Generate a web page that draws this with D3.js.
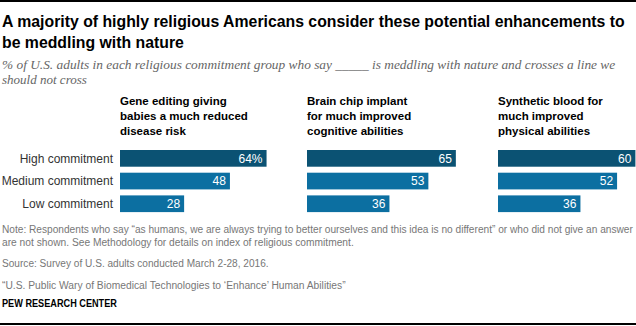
<!DOCTYPE html>
<html>
<head>
<meta charset="utf-8">
<script src="https://cdn.jsdelivr.net/npm/d3@7"></script>
<style>
  body { margin: 0; background: #fff; }
  svg { display: block; }
</style>
</head>
<body>
<svg id="chart"></svg>
<script>
const groups = ["High commitment", "Medium commitment", "Low commitment"];
const panelTitles = [
  ["Gene editing giving", "babies a much reduced", "disease risk"],
  ["Brain chip implant", "for much improved", "cognitive abilities"],
  ["Synthetic blood for", "much improved", "physical abilities"]
];
const geneEditing = [64, 48, 28];
const brainChip = [65, 53, 36];
const syntheticBlood = [60, 52, 36];
const panelValues = [geneEditing, brainChip, syntheticBlood];

const titleLines = [
  "A majority of highly religious Americans consider these potential enhancements to",
  "be meddling with nature"
];
const subtitleLines = [
  "% of U.S. adults in each religious commitment group who say _____ is meddling with nature and crosses a line we",
  "should not cross"
];
const noteLines = [
  "Note: Respondents who say \u201cas humans, we are always trying to better ourselves and this idea is no different\u201d or who did not give an answer",
  "are not shown. See Methodology for details on index of religious commitment."
];
const sourceLine = "Source: Survey of U.S. adults conducted March 2-28, 2016.";
const reportLine = "\u201cU.S. Public Wary of Biomedical Technologies to \u2018Enhance\u2019 Human Abilities\u201d";
const creditLine = "PEW RESEARCH CENTER";

const width = 636, height = 326;
const sans = "'Liberation Sans', Arial, sans-serif";
const serif = "'Liberation Serif', Georgia, serif";

const svg = d3.select("#chart").attr("width", width).attr("height", height);

// the original uses a condensed face; fit each line horizontally
// to the width
function squeezed(parent, str, px, py, targetWidth) {
  const t = parent.append("text").attr("x", 0).attr("y", 0).text(str);
  const natural = t.node().getComputedTextLength();
  const k = targetWidth / natural;
  t.attr("transform", `translate(${px},${py}) scale(${k},1)`);
  return t;
}

// rules
svg.append("line").attr("x1", 0).attr("x2", width).attr("y1", 1).attr("y2", 1)
  .attr("stroke", "#000").attr("stroke-width", 2);
svg.append("line").attr("x1", 0).attr("x2", width).attr("y1", 324).attr("y2", 324)
  .attr("stroke", "#000").attr("stroke-width", 2);

// title
const titleG = svg.append("g")
  .attr("font-family", sans).attr("font-weight", "bold").attr("font-size", 16.5).attr("fill", "#000");
const titleW = [623, 182];
titleLines.forEach((s, i) => squeezed(titleG, s, 2, 27 + i * 20.5, titleW[i]));

const subG = svg.append("g")
  .attr("font-family", serif).attr("font-style", "italic").attr("font-size", 13).attr("fill", "#666");
const subW = [614, 85];
subtitleLines.forEach((s, i) => squeezed(subG, s, 2, 69 + i * 14.5, subW[i]));

// scales
const panelX = d3.scaleOrdinal().domain([0, 1, 2]).range([120, 307, 498]);
const x = d3.scaleLinear().domain([0, 100]).range([0, 229]);
const y = d3.scaleBand().domain(groups).range([150, 212.1]).paddingInner(0.264);
const color = d3.scaleOrdinal().domain(groups).range(["#0b5273", "#0c6fa1", "#0c6fa1"]);

// category labels
svg.append("g").selectAll("text").data(groups).join("text")
  .attr("x", 113).attr("y", d => y(d) + y.bandwidth() / 2)
  .attr("dy", "0.35em").attr("text-anchor", "end")
  .attr("font-family", sans).attr("font-size", 12).attr("fill", "#333")
  .text(d => d);

panelValues.forEach((vals, p) => {
  const g = svg.append("g").attr("transform", `translate(${panelX(p)},0)`);
  g.selectAll("text.head").data(panelTitles[p]).join("text")
    .attr("class", "head")
    .attr("x", 0).attr("y", (d, i) => 105 + i * 15)
    .attr("font-family", sans).attr("font-weight", "bold").attr("font-size", 11.5)
    .attr("fill", "#000").text(d => d);

  const rows = groups.map((gname, i) => ({ group: gname, value: vals[i] }));
  g.selectAll("rect").data(rows).join("rect")
    .attr("x", 0).attr("y", d => y(d.group))
    .attr("width", d => x(d.value)).attr("height", y.bandwidth())
    .attr("fill", d => color(d.group));
  g.selectAll("text.val").data(rows).join("text")
    .attr("class", "val")
    .attr("x", d => x(d.value) - 4).attr("y", d => y(d.group) + y.bandwidth() / 2)
    .attr("dy", "0.36em").attr("text-anchor", "end")
    .attr("font-family", sans).attr("font-size", 12).attr("fill", "#fff")
    .text((d, i) => (p === 0 && i === 0) ? d.value + "%" : d.value);
});

// notes
const notes = svg.append("g").attr("font-family", sans).attr("font-size", 11.5).attr("fill", "#777");
const noteW = [632, 352];
noteLines.forEach((s, i) => squeezed(notes, s, 2, 233 + i * 12.5, noteW[i]));
squeezed(notes, sourceLine, 2, 267, 267);
squeezed(notes, reportLine, 2, 289, 344);

const credit = svg.append("g")
  .attr("font-family", sans).attr("font-weight", "bold").attr("font-size", 10.5).attr("fill", "#000");
squeezed(credit, creditLine, 2, 307, 115);
</script>
</body>
</html>
